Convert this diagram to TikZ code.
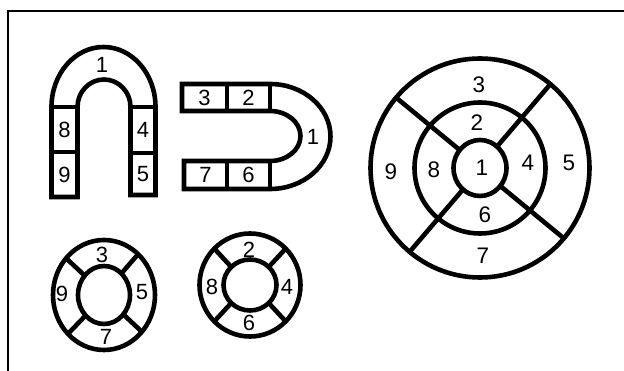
\documentclass[tikz,border=0pt]{standalone}
\usepackage{fontspec}
\setmainfont{Liberation Sans}
\begin{document}
\begin{tikzpicture}[x=1pt,y=-1pt,
  outl/.style={line width=4.6pt,line join=miter},
  frameline/.style={line width=2.8pt},
  lbl/.style={inner sep=0pt,font=\fontsize{22}{22}\selectfont},
  biglbl/.style={inner sep=0pt,font=\fontsize{22.5}{22.5}\selectfont}]
\useasboundingbox (0,0) rectangle (624,371);
\fill[white] (0,0) rectangle (624,371);
% frame
\draw[frameline] (630,11) -- (8,11) -- (8,380);

% inverted U
\draw[outl] (51.5,197) -- (51.5,107)
  arc[start angle=180,end angle=360,x radius=52,y radius=60]
  -- (155.5,195) -- (130.5,195) -- (130.5,107)
  arc[start angle=0,end angle=-180,x radius=26.5,y radius=27.5]
  -- (77.5,197) -- cycle;
\draw[outl] (51.5,107) -- (77.5,107) (130.5,107) -- (155.5,107)
  (51.5,152) -- (77.5,152) (130.5,153) -- (155.5,153);
\node[lbl] (u1) at (102,65) {1};
\node[lbl] (u8) at (64.5,130) {8};
\node[lbl] (u9) at (64.5,174.5) {9};
\node[lbl] (u4) at (143,130) {4};
\node[lbl] (u5) at (143,174) {5};

% rotated U
\draw[outl] (182,84) -- (270,84)
  arc[start angle=-90,end angle=90,x radius=60.5,y radius=52.5]
  -- (184,189) -- (184,161) -- (270,161)
  arc[start angle=90,end angle=-90,x radius=30.5,y radius=25]
  -- (182,111) -- cycle;
\draw[outl] (227,84) -- (227,111) (270,84) -- (270,111)
  (227,161) -- (227,189) (270,161) -- (270,189);
\node[lbl] (r3) at (204.5,97.5) {3};
\node[lbl] (r2) at (248.5,97.5) {2};
\node[lbl] (r7) at (205.5,175) {7};
\node[lbl] (r6) at (248.5,175) {6};
\node[lbl] (r1) at (313,137) {1};

% big circle
\coordinate (bc) at (480,168);
\draw[outl] (bc) circle[radius=109.5];
\draw[outl] (bc) circle[radius=65.5];
\draw[outl] (bc) ellipse[x radius=26.5,y radius=28];
\foreach \a in {-50,130,220,40}
  \draw[outl] ([shift={(bc)}]\a:26.5 and 28) -- ([shift={(bc)}]\a:109.5);
\node[biglbl] (b3) at (479,85) {3};
\node[biglbl] (b2) at (477,123) {2};
\node[biglbl] (b9) at (391,172) {9};
\node[biglbl] (b8) at (434,170) {8};
\node[biglbl] (b1) at (482,168) {1};
\node[biglbl] (b4) at (528,163) {4};
\node[biglbl] (b5) at (569,163) {5};
\node[biglbl] (b6) at (485,215) {6};
\node[biglbl] (b7) at (483,256) {7};

% small circle left
\coordinate (sa) at (104,295);
\draw[outl] (sa) ellipse[x radius=51,y radius=55];
\draw[outl] (sa) ellipse[x radius=26,y radius=29];
\foreach \a in {-48,-138,135,42}
  \draw[outl] ([shift={(sa)}]\a:26 and 29) -- ([shift={(sa)}]\a:51 and 55);
\node[lbl] (s3) at (102,255) {3};
\node[lbl] (s9) at (62,294) {9};
\node[lbl] (s5) at (142,292) {5};
\node[lbl] (s7) at (106,337) {7};

% small circle right
\coordinate (sb) at (250,285);
\draw[outl] (sb) ellipse[x radius=50.5,y radius=51.5];
\draw[outl] (sb) ellipse[x radius=26.5,y radius=25.5];
\foreach \a in {-45,-135,135,45}
  \draw[outl] ([shift={(sb)}]\a:26.5 and 25.5) -- ([shift={(sb)}]\a:50.5 and 51.5);
\node[lbl] (t2) at (249,250) {2};
\node[lbl] (t8) at (212,287) {8};
\node[lbl] (t4) at (287,287) {4};
\node[lbl] (t6) at (249,323) {6};
\end{tikzpicture}
\end{document}
